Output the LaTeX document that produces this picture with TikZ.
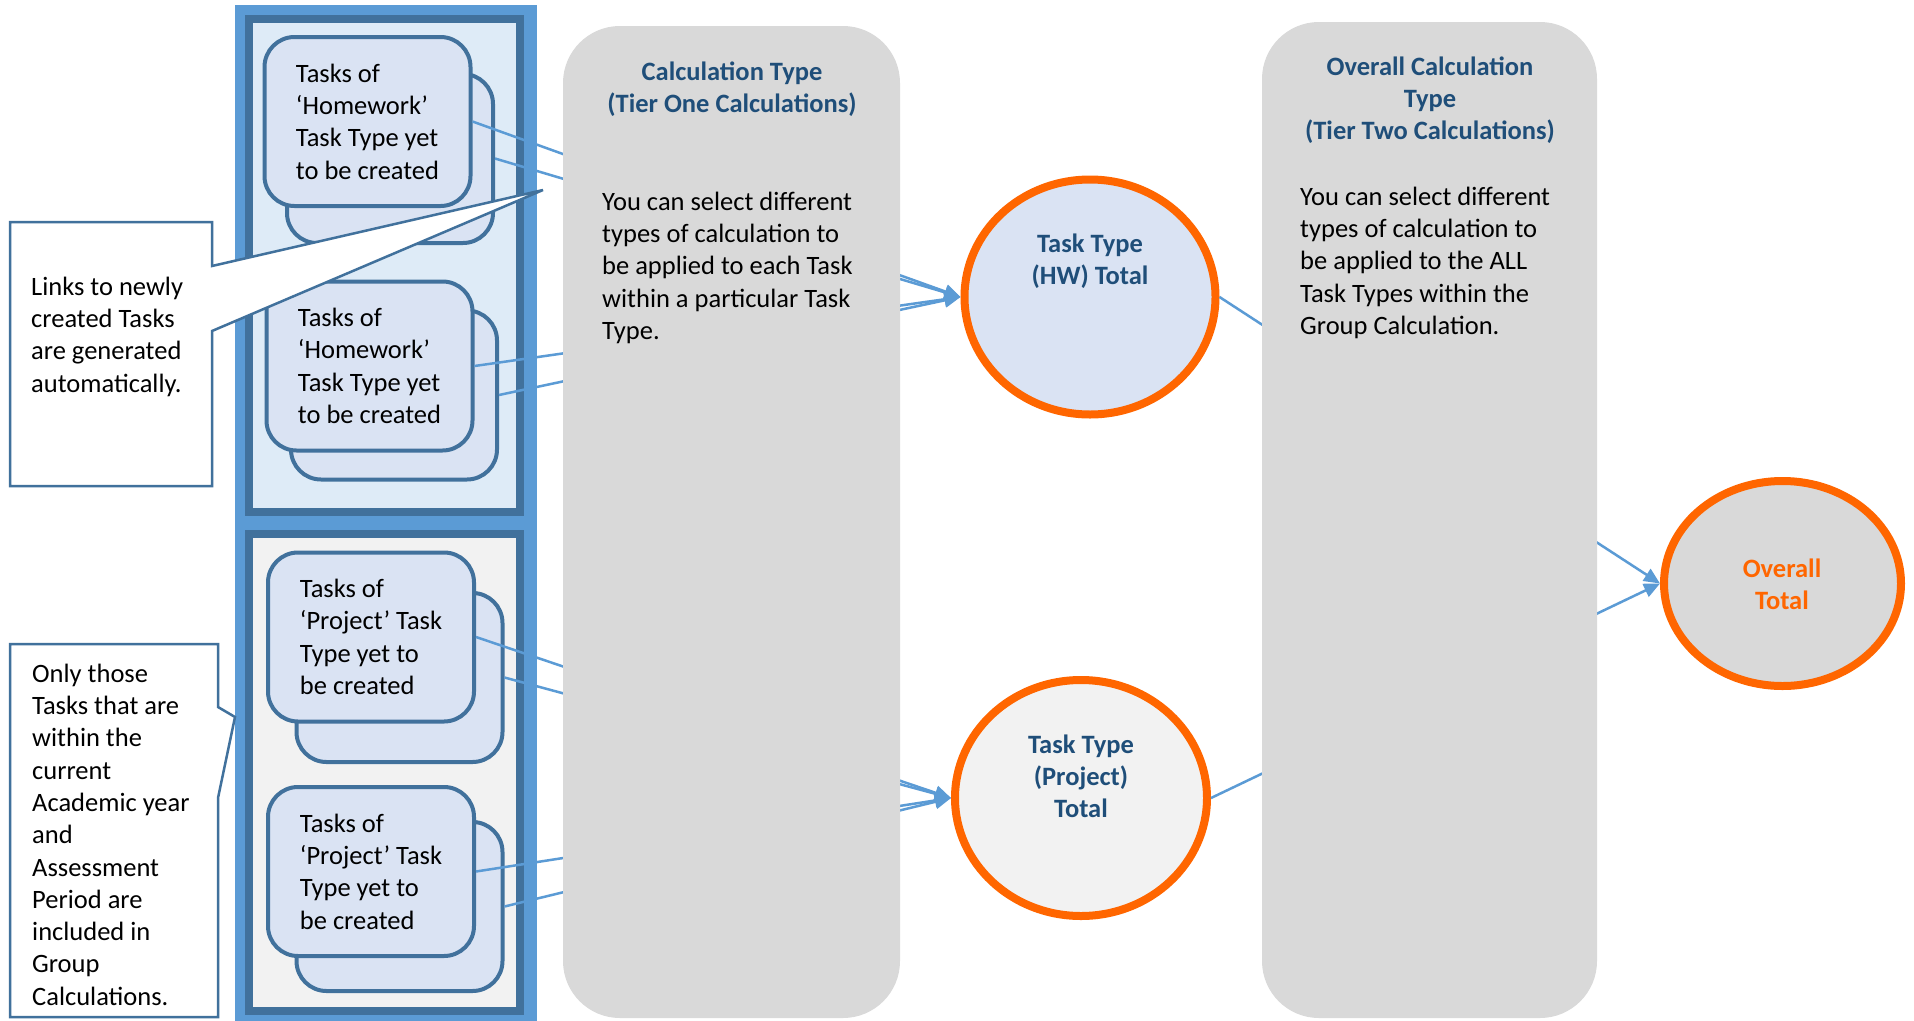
\documentclass[tikz,border=0pt]{standalone}
\usepackage{fontspec}
\setmainfont{Carlito}
\usetikzlibrary{shapes.geometric,arrows.meta}
\definecolor{frameblue}{HTML}{5B9BD5}
\definecolor{darkblue}{HTML}{41719C}
\definecolor{grpfill}{HTML}{DEEBF7}
\definecolor{grpgray}{HTML}{F2F2F2}
\definecolor{cardfill}{HTML}{DAE3F3}
\definecolor{colgray}{HTML}{D9D9D9}
\definecolor{titleblue}{HTML}{1F4E79}
\definecolor{orng}{HTML}{FF6600}
\newcommand\bodyfont{\fontsize{26.5}{32.3}\selectfont}
\newcommand\fstr{\rule{0pt}{24pt}}
\begin{document}
\begin{tikzpicture}[x=1pt,y=-1pt,
  card/.style={draw=darkblue, line width=4pt, fill=cardfill, rounded corners=30pt,
    minimum width=206pt, minimum height=169pt, inner sep=0pt, font=\bodyfont,
    align=left, text=black},
  conn/.style={draw=frameblue, line width=2.5pt, -{Triangle[length=16pt,width=14pt]}},
  callout/.style={draw=darkblue, line width=2.5pt, fill=white},
  col/.style={fill=colgray, rounded corners=57pt, inner sep=0pt, draw=none},
  ell/.style={ellipse, draw=orng, line width=8pt, inner sep=0pt},
  ttl/.style={inner sep=0pt, anchor=north, align=center, font=\bodyfont\bfseries, text=titleblue},
  bodytxt/.style={inner sep=0pt, anchor=north west, align=left, font=\bodyfont, text=black}]
\useasboundingbox (0,0) rectangle (1914,1020);
\fill[white] (0,0) rectangle (1914,1020);
% left frame
\fill[frameblue] (235,5) rectangle (537,1030);
\draw[darkblue, line width=8pt, fill=grpfill] (249,19) rectangle (520,512);
\draw[darkblue, line width=8pt, fill=grpgray] (249,534) rectangle (520,1011);
% cards
\node[card] (c1b) at (390,158.5) {};
\node[card] (c1f) at (367.5,121.5) {Tasks of\\‘Homework’\\Task Type yet\\to be created};
\node[card] (c2b) at (394,395) {};
\node[card] (c2f) at (369.5,366) {Tasks of\\‘Homework’\\Task Type yet\\to be created};
\node[card] (c3b) at (399.5,677.5) {};
\node[card] (c3f) at (371,637) {Tasks of\\‘Project’ Task\\Type yet to\\be created};
\node[card] (c4b) at (399.5,906.5) {};
\node[card] (c4f) at (371,871.5) {Tasks of\\‘Project’ Task\\Type yet to\\be created};
% circles
\node[ell, fill=cardfill, minimum width=251pt, minimum height=235pt] (hw) at (1090,297) {};
\node[ell, fill=grpgray, minimum width=252pt, minimum height=236pt] (pj) at (1081,798) {};
\node[ell, fill=colgray, minimum width=237pt, minimum height=205pt] (ov) at (1782.5,583.5) {};
% connectors
\draw[conn] (c1f.east) -- (hw.west);
\draw[conn] (c1b.east) -- (hw.west);
\draw[conn] (c2f.east) -- (hw.west);
\draw[conn] (c2b.east) -- (hw.west);
\draw[conn] (c3f.east) -- (pj.west);
\draw[conn] (c3b.east) -- (pj.west);
\draw[conn] (c4f.east) -- (pj.west);
\draw[conn] (c4b.east) -- (pj.west);
\draw[conn] (hw.east) -- (ov.west);
\draw[conn] (pj.east) -- (ov.west);
% callouts
\draw[callout] (10,222) -- (212,222) -- (212,266) -- (543,190) -- (212,331) -- (212,486) -- (10,486) -- cycle;
\node[bodytxt] (co1) at (31,271) {\fstr Links to newly\\created Tasks\\are generated\\automatically.};
\draw[callout] (10,644) -- (218,644) -- (218,707) -- (235,717) -- (218,798) -- (218,1017) -- (10,1017) -- cycle;
\node[bodytxt] (co2) at (32,658) {\fstr Only those\\Tasks that are\\within the\\current\\Academic year\\and\\Assessment\\Period are\\included in\\Group\\Calculations.};
% columns
\node[col, minimum width=337pt, minimum height=992pt] (calc) at (731.5,522) {};
\node[ttl] (calct) at (732,56) {\fstr Calculation Type\\(Tier One Calculations)};
\node[bodytxt] (calcb) at (602,186) {\fstr You can select different\\types of calculation to\\be applied to each Task\\within a particular Task\\Type.};
\node[col, minimum width=335pt, minimum height=996pt] (ovc) at (1429.5,520) {};
\node[ttl] (ovct) at (1430,51) {\fstr Overall Calculation\\Type\\(Tier Two Calculations)};
\node[bodytxt] (ovcb) at (1300,181) {\fstr You can select different\\types of calculation to\\be applied to the ALL\\Task Types within the\\Group Calculation.};
% circle texts
\node[ttl] (hwt) at (1090,228) {\fstr Task Type\\(HW) Total};
\node[ttl] (pjt) at (1081,729) {\fstr Task Type\\(Project)\\Total};
\node[ttl, text=orng] (ovt) at (1782,553) {\fstr Overall\\Total};
\end{tikzpicture}
\end{document}
